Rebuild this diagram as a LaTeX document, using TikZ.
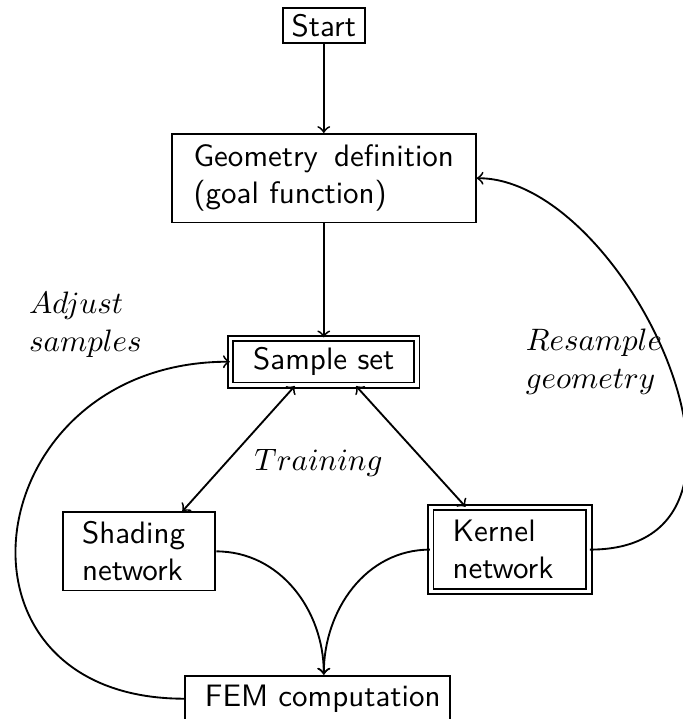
\documentclass[tikz,border=0pt]{standalone}
\begin{document}
\begin{tikzpicture}[semithick,
    box/.style={draw=black,font=\sffamily,inner sep=3pt},
    dbox/.style={box,double,double distance=1.1pt},
    lbl/.style={align=left,inner sep=0pt}]
    \useasboundingbox (0,0) rectangle (7.74,-8.15);
    \node[box,inner xsep=2.8pt,inner ysep=2pt] (S) at (3.67,-0.29) {Start};
    \node[box,text width=84pt,inner xsep=7pt,inner ysep=3.5pt] (G) at (3.67,-2.02) {Geometry\hfill definition\\(goal function)};
    \node[dbox,minimum width=60pt,minimum height=14.8pt] (P) at (3.67,-4.10) {Sample set};
    \node[box,text width=37pt,inner xsep=6pt] (N) at (1.58,-6.25) {Shading\\network};
    \node[dbox,text width=37pt,inner xsep=7pt,inner ysep=4pt] (K) at (5.78,-6.23) {Kernel\\network};
    \node[box] (F) at (3.60,-7.92) {~FEM computation};
    \node[lbl,anchor=west] (A) at (0.32,-3.68) {$Adjust$\\$samples$};
    \node[lbl,anchor=west] (R) at (5.95,-4.10) {$Resample$\\$geometry$};
    \node (T) at (3.61,-5.25) {$Training$};
    \path [->](S) edge (G);
    \path [->](G) edge (P);
    \path [<->](P.220) edge (N.43);
    \path [<->](P.323) edge (K.136);
    \path [->](N.east) edge[out=0,in=90] ([xshift=2pt]F.north);
    \path [->](K.west) edge[out=180,in=90] ([xshift=2pt]F.north);
    \path [->](F.west) edge[out=180,in=180,distance=2.87cm] (P.west);
    \path [->](K.east) edge[out=0,in=0,out distance=2.38cm,in distance=1.7cm] (G.east);
\end{tikzpicture}
\end{document}
